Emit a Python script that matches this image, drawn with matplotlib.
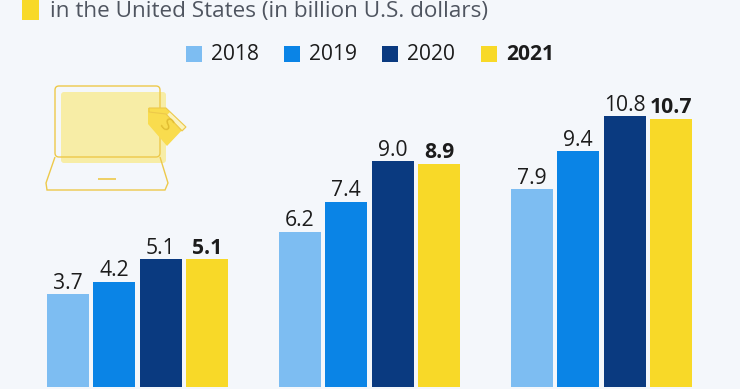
import matplotlib
matplotlib.use("Agg")
import matplotlib.pyplot as plt
import numpy as np
from matplotlib.patches import Rectangle, FancyBboxPatch, Polygon, PathPatch
from matplotlib.path import Path
from matplotlib.transforms import Affine2D

plt.rcParams['font.family'] = ['Open Sans', 'DejaVu Sans']

years = ['2018', '2019', '2020', '2021']
colors = ['#7DBDF2', '#0A84E6', '#0A3A80', '#F8D928']
group1 = [3.7, 4.2, 5.1, 5.1]
group2 = [6.2, 7.4, 9.0, 8.9]
group3 = [7.9, 9.4, 10.8, 10.7]
groups = [group1, group2, group3]
title_line = 'in the United States (in billion U.S. dollars)'

W, H = 740, 389
BG = '#F4F7FB'
fig = plt.figure(figsize=(W/100, H/100), dpi=100, facecolor=BG)
ax = fig.add_axes([0, 0, 1, 1], facecolor=BG)
ax.set_xlim(-137.5/232, (W-137.5)/232)
ppu = 25.1
ax.set_ylim(-(H-387.3)/ppu, 387.3/ppu)
ax.axis('off')

step = 46.4/232
width = 42/232
for g, vals in enumerate(groups):
    for s, v in enumerate(vals):
        x = g + (s-1.5)*step
        ax.bar(x, v, width=width, color=colors[s], linewidth=0)
        bold = s == 3
        ax.text(x, v + 0.02, f'{v:.1f}', ha='center', va='bottom', fontsize=15.2,
                color='#1c1c1c', fontweight='bold' if bold else 'normal')

px = Affine2D().scale(1, -1).translate(0, H)
def add(p):
    p.set_transform(px)
    p.set_clip_on(False)
    fig.add_artist(p)

add(Rectangle((22, -2), 17, 22, fc='#F8D928', ec='none'))
fig.text(50/W, 1-11.5/H, title_line, fontsize=16.2, color='#4f5560', ha='left', va='center')

lx = [186, 284, 382, 481]
for x, y_, c in zip(lx, years, colors):
    add(Rectangle((x, 46), 16, 16, fc=c, ec='none'))
    fig.text((x+25)/W, 1-55/H, y_, fontsize=15.1, color='#1c1c1c', va='center', ha='left',
             fontweight='bold' if y_ == '2021' else 'normal')

# laptop icon
line = '#EDC94A'
add(FancyBboxPatch((61, 92), 105, 71, boxstyle='round,pad=0,rounding_size=3', fc='#F7EDA6', ec='none'))
add(FancyBboxPatch((55, 86), 105, 71, boxstyle='round,pad=0,rounding_size=4', fc='none', ec=line, lw=1))
add(PathPatch(Path([(55, 157), (46, 183), (47, 190), (165, 190), (168, 183), (160, 157)]),
              fc='none', ec=line, lw=1))
add(PathPatch(Path([(98, 179), (116, 179)], [Path.MOVETO, Path.LINETO]), fc='none', ec=line, lw=1.2))
add(Polygon([(148, 108), (166, 108), (185, 127), (167, 146), (148, 124)], fc='#F9DC4E', ec='none'))
add(Polygon([(170, 112), (185, 127), (182, 130), (167, 115)], fc='#FBF3C0', ec='none'))
add(Polygon([(149, 108), (166, 108), (186, 127), (182, 131), (166, 114), (149, 112)], fc='none', ec=line, lw=0.8))
fig.text(165/W, 1-125/H, 'S', fontsize=13, color='#E0BC30', rotation=-45, ha='center', va='center')

fig.savefig('out.png', dpi=100, facecolor=BG)
